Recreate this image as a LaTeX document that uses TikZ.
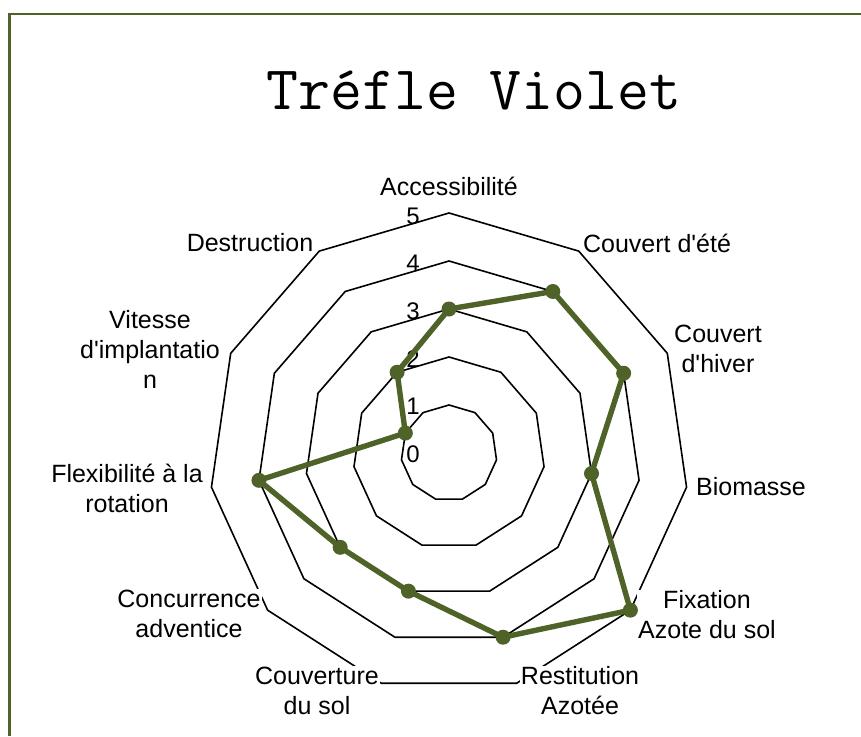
\documentclass[tikz,border=0pt]{standalone}
\usepackage{fontspec}
\setmainfont{Liberation Sans}[Ligatures=TeXOff]
\definecolor{olive}{HTML}{4F6228}
\begin{document}
\begin{tikzpicture}[x=1pt,y=-1pt,
  ring/.style={draw=black,line width=1.6pt,line join=miter},
  frame/.style={draw=olive,line width=2.4pt},
  data/.style={draw=olive,line width=5.4pt,line join=round},
  dot/.style={circle,fill=olive,inner sep=0pt,minimum size=15pt},
  axlabel/.style={font=\fontsize{25}{30}\selectfont,align=center,fill=white,inner sep=1pt},
  numlabel/.style={font=\fontsize{24}{24}\selectfont,inner sep=0pt},
  titlelabel/.style={font=\ttfamily\fontsize{62}{64}\selectfont,inner sep=0pt}]
\useasboundingbox (0,0) rectangle (861,736);
\fill[white] (0,0) rectangle (861,736);
% frame
\draw[frame] (861,14) -- (9.5,14) -- (9.5,736);
% title
\node[titlelabel] (title) at (474,90) {Tréfle Violet};
% centre
\coordinate (C) at (449,453);
% rings
\foreach \l in {1,...,5}{
  \draw[ring] ({449+48*\l*cos(90)},{453-48*\l*sin(90)})
    \foreach \k in {1,...,10}{ -- ({449+48*\l*cos(90-\k*360/11)},{453-48*\l*sin(90-\k*360/11)}) } -- cycle;
}
% scale numbers
\foreach \l in {0,...,5}{
  \node[numlabel] (n\l) at (413,{454-47.6*\l}) {\l};
}
% axis labels
\node[axlabel] (l0) at (449,186) {Accessibilité};
\node[axlabel] (l1) at (657,243) {Couvert d'été};
\node[axlabel] (l2) at (718,349) {Couvert\\d'hiver};
\node[axlabel] (l3) at (751,487) {Biomasse};
\node[axlabel] (l4) at (707,615) {Fixation\\Azote du sol};
\node[axlabel] (l5) at (580,691) {Restitution\\Azotée};
\node[axlabel] (l6) at (317,691) {Couverture\\du sol};
\node[axlabel] (l7) at (189,614) {Concurrence\\adventice};
\node[axlabel] (l8) at (127,488) {Flexibilité à la\\rotation};
\node[axlabel] (l9) at (150,349) {Vitesse\\d'implantatio\\n};
\node[axlabel] (l10) at (250,243) {Destruction};
% data
\foreach \v [count=\i from 0] in {3,4,4,3,5,4,3,3,4,1,2}{
  \coordinate (d\i) at ({449+48*\v*cos(90-\i*360/11)},{453-48*\v*sin(90-\i*360/11)});
}
\draw[data] (d0) -- (d1) -- (d2) -- (d3) -- (d4) -- (d5) -- (d6) -- (d7) -- (d8) -- (d9) -- (d10) -- cycle;
\foreach \i in {0,...,10}{
  \node[dot] (p\i) at (d\i) {};
}
\end{tikzpicture}
\end{document}
